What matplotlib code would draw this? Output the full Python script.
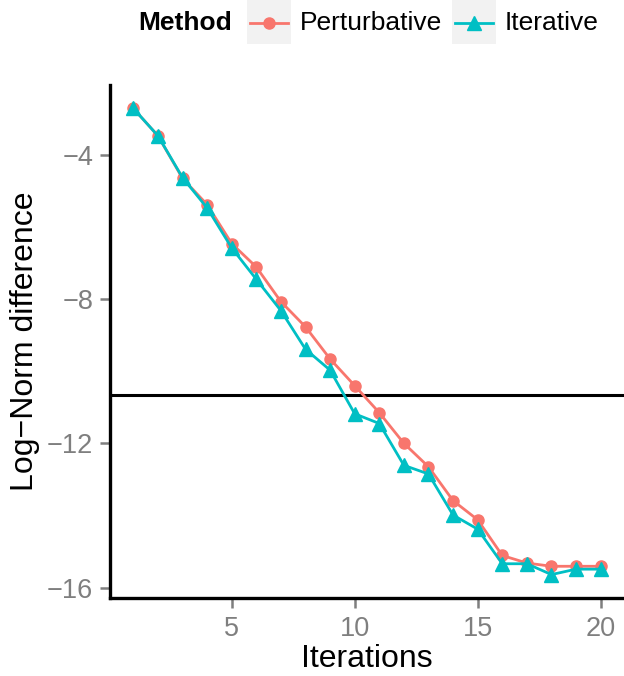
import matplotlib
matplotlib.use("Agg")
import matplotlib.pyplot as plt
from matplotlib.lines import Line2D
from matplotlib.patches import Rectangle

iterations = list(range(1, 21))
perturbative = [-2.71, -3.47, -4.65, -5.38, -6.46, -7.11, -8.07, -8.77, -9.66, -10.40,
                -11.15, -12.00, -12.65, -13.59, -14.12, -15.11, -15.32, -15.41, -15.41, -15.41]
iterative = [-2.71, -3.47, -4.63, -5.47, -6.58, -7.45, -8.32, -9.39, -9.97, -11.18,
             -11.45, -12.61, -12.85, -13.99, -14.38, -15.34, -15.34, -15.64, -15.49, -15.49]
threshold = -10.67

RED = "#F8766D"
TEAL = "#00BFC4"
GREY = "#7F7F7F"

plt.rcParams["font.family"] = ["Liberation Sans", "DejaVu Sans"]

W, H = 624, 676
fig = plt.figure(figsize=(W / 100, H / 100), dpi=100)
ax = fig.add_axes([110 / W, 78 / H, 514 / W, 513 / H])

ax.plot(iterations, perturbative, color=RED, lw=2, marker="o", ms=8, zorder=3)
ax.plot(iterations, iterative, color=TEAL, lw=2, marker="^", ms=9.5, zorder=4)
ax.axhline(threshold, color="black", lw=2.2, zorder=2)

ax.set_xlim(0.05, 20.95)
ax.set_ylim(-16.29, -2.06)
ax.set_xticks([5, 10, 15, 20])
ax.set_yticks([-4, -8, -12, -16])
ax.set_yticklabels(["\u22124", "\u22128", "\u221212", "\u221216"])
ax.tick_params(colors=GREY, labelcolor=GREY, labelsize=19.5, length=7, width=1.8, pad=5)
ax.tick_params(axis="x", pad=6)

for side in ["top", "right"]:
    ax.spines[side].set_visible(False)
for side in ["left", "bottom"]:
    ax.spines[side].set_linewidth(2.4)
    ax.spines[side].set_color("black")

ax.set_xlabel("Iterations", fontsize=23)
ax.xaxis.label.set_va("baseline")
ax.xaxis.set_label_coords((367 - 110) / 514, -(667 - 598) / 513)
ax.set_ylabel("Log\u2212Norm difference", fontsize=23)
ax.yaxis.set_label_coords((40 - 110) / 514, 0.5)

# legend drawn across the top of the figure
ly = 1 - 22.5 / H
fig.text(138 / W, ly, "Method", fontsize=19, fontweight="bold", va="center", ha="left")
keys = [(247, RED, "o", 8, "Perturbative", 300), (452, TEAL, "^", 9.5, "Iterative", 505)]
for x0, col, mk, ms, lab, tx in keys:
    fig.add_artist(Rectangle((x0 / W, 1 - 44 / H), 44 / W, 44 / H,
                             transform=fig.transFigure, facecolor="#F2F2F2", edgecolor="none"))
    fig.add_artist(Line2D([(x0 + 3) / W, (x0 + 41) / W], [ly] * 2,
                          transform=fig.transFigure, color=col, lw=2))
    fig.add_artist(Line2D([(x0 + 22) / W], [ly], transform=fig.transFigure,
                          color=col, marker=mk, ms=ms))
    fig.text(tx / W, ly, lab, fontsize=19, va="center", ha="left")

fig.savefig("out.png", dpi=100)
